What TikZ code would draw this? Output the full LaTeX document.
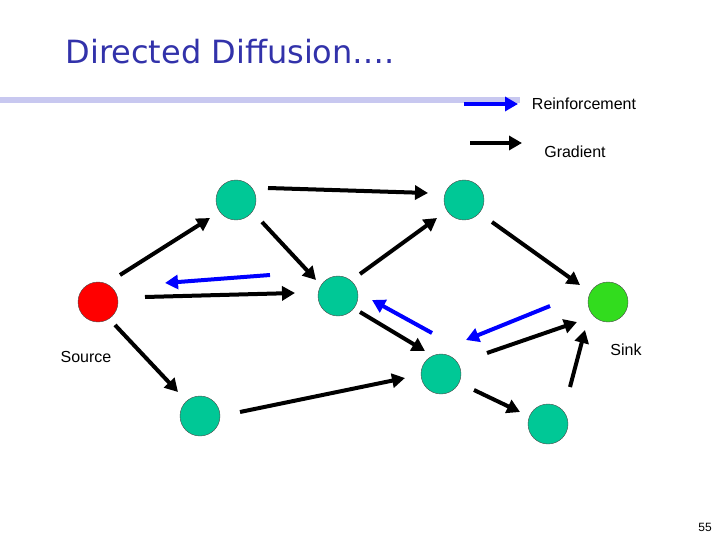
\documentclass[tikz,border=0pt]{standalone}
\usepackage{fontspec}
\setmainfont{Liberation Sans}
\newfontfamily\titlefont{DejaVu Sans}
\usetikzlibrary{arrows.meta}
\definecolor{nodeg}{RGB}{0,200,150}
\definecolor{sinkg}{RGB}{50,220,30}
\definecolor{titleb}{RGB}{50,50,170}
\definecolor{barc}{RGB}{200,200,240}
\begin{document}
\begin{tikzpicture}[x=1pt,y=-1pt,
  nd/.style={circle,draw=black!70,fill=nodeg,minimum size=40pt,inner sep=0pt},
  ar/.style={line width=4pt,-{Triangle[length=13pt,width=14pt]}},
  ab/.style={ar,blue},
  lb/.style={font=\fontsize{16}{19}\selectfont}]
\useasboundingbox (0,0) rectangle (720,540);
\node[titleb,font=\titlefont\fontsize{32}{38}\selectfont,anchor=west] (t) at (62,52) {Directed Diffusion\dots.};
\fill[barc] (0,97) rectangle (520,103);
\coordinate (l1a) at (464,104); \coordinate (l1b) at (518,104);
\coordinate (l2a) at (470,143); \coordinate (l2b) at (522,143);
\draw[ab] (l1a) -- (l1b);
\draw[ar] (l2a) -- (l2b);
\node[lb] (rl) at (584,104) {Reinforcement};
\node[lb] (gl) at (575,152) {Gradient};
\node[nd,fill=red] (S) at (98,302) {};
\node[nd] (A) at (236,200) {};
\node[nd] (B) at (464,200) {};
\node[nd] (C) at (338,296) {};
\node[nd] (D) at (441,374) {};
\node[nd,fill=sinkg] (K) at (608,302) {};
\node[nd] (E) at (200,416) {};
\node[nd] (F) at (548,424) {};
\node[lb] (sl) at (86,357) {Source};
\node[lb] (kl) at (626,350) {Sink};
\node[font=\fontsize{12}{14}\selectfont] (pn) at (705,527) {55};
\foreach \a/\b/\c/\d/\s in {120/275/210/218/ar, 268/188/428/193/ar, 262/222/316/280/ar,
  145/297/295/293/ar, 270/275/165/283/ab, 360/274/437/218/ar, 492/222/580/285/ar,
  360/312/425/351/ar, 432/333/372/300/ab, 550/306/466/340/ab, 487/353/577/322/ar,
  115/325/178/392/ar, 240/412/405/378/ar, 570/387/585/330/ar, 474/390/520/412/ar}
  {\coordinate (p) at (\a,\b); \coordinate (q) at (\c,\d); \draw[\s] (p) -- (q);}
\end{tikzpicture}
\end{document}
